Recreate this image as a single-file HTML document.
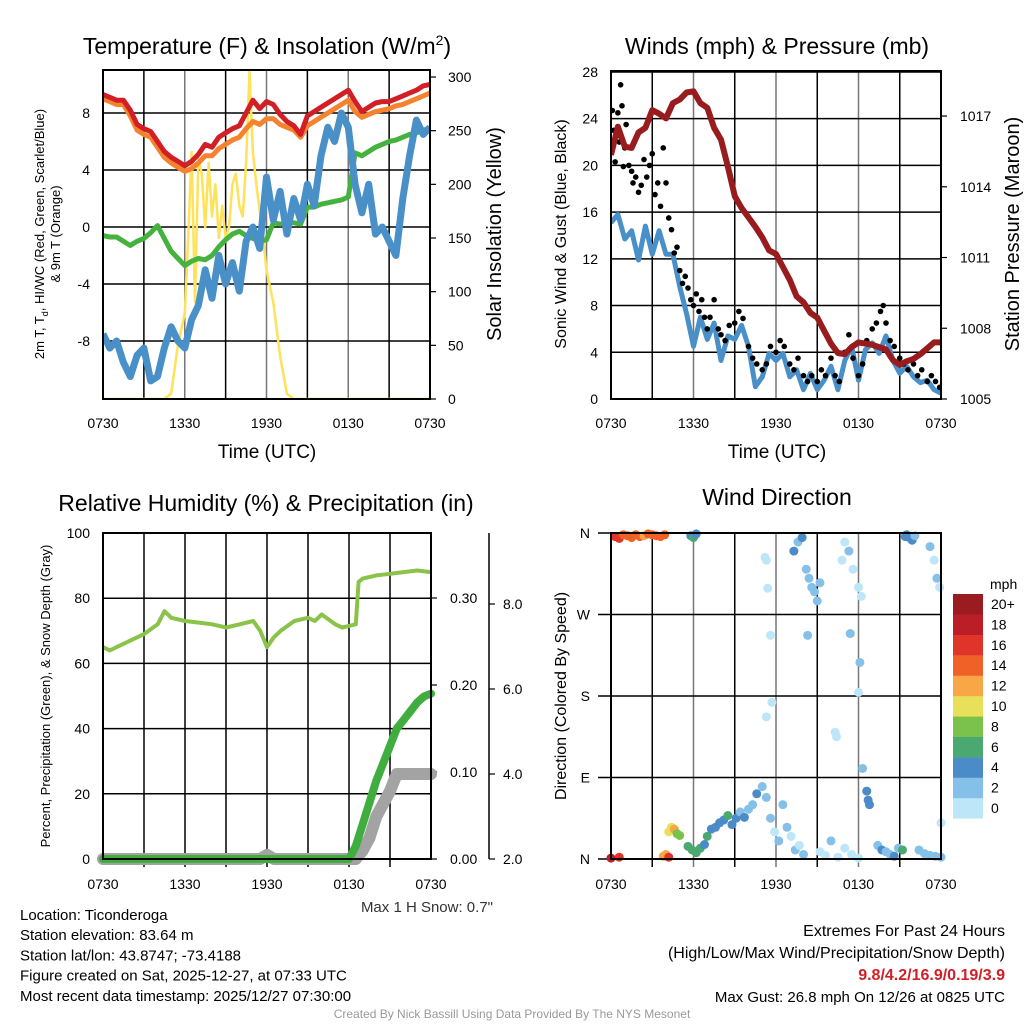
<!DOCTYPE html>
<html><head><meta charset="utf-8"><style>
html,body{margin:0;padding:0;background:#fff;}
svg{display:block;font-family:"Liberation Sans",Arial,sans-serif;}
</style></head><body>
<svg id="c" width="1024" height="1024" viewBox="0 0 1024 1024" xmlns="http://www.w3.org/2000/svg">
<defs>
<clipPath id="cp1"><rect x="103" y="70" width="327" height="329"/></clipPath>
<clipPath id="cp2"><rect x="611" y="71" width="330" height="328"/></clipPath>
</defs>
</svg>
<script>
// ---------- data ----------
const hours49 = [0,0.5,1,1.5,2,2.5,3,3.5,4,4.5,5,5.5,6,6.5,7,7.5,8,8.5,9,9.5,10,10.5,11,11.5,12,12.5,13,13.5,14,14.5,15,15.5,16,16.5,17,17.5,18,18.5,19,19.5,20,20.5,21,21.5,22,22.5,23,23.5,24];
const tempRed = [9.3,9.1,8.9,8.9,8.2,7.2,6.9,6.7,6.0,5.3,4.9,4.6,4.3,4.6,5.1,5.8,5.6,6.3,6.6,6.9,7.1,8.0,8.9,8.3,8.8,8.6,7.9,7.4,7.1,6.5,7.8,8.1,8.4,8.7,9.0,9.3,9.6,8.8,8.1,8.4,8.7,8.8,8.8,9.0,9.2,9.4,9.6,9.9,10.0];
const tempOrange = [9.0,8.8,8.6,8.6,7.8,6.8,6.5,6.3,5.6,4.9,4.5,4.2,3.9,4.1,4.5,5.0,5.0,5.5,5.8,6.1,6.3,6.9,7.4,7.2,7.6,7.6,7.2,7.0,6.8,6.3,7.1,7.4,7.7,8.0,8.3,8.6,8.9,8.1,7.7,7.9,8.1,8.2,8.3,8.5,8.6,8.8,9.0,9.2,9.4];
const windChillGreen = [-0.6,-0.7,-0.7,-1.0,-1.3,-1.0,-0.8,-0.4,0.1,-0.8,-1.7,-2.2,-2.7,-2.4,-2.2,-2.3,-2.0,-1.4,-0.9,-0.5,-0.3,-0.6,-0.8,-1.0,-0.9,0.3,0.2,0.3,0.3,0.2,1.4,1.4,1.6,1.7,1.8,1.9,2.1,5.2,5.0,5.3,5.6,5.8,6.0,6.1,6.3,6.5,6.6,6.8,6.9];
const dewBlue = [-7.5,-8.5,-8,-9.5,-10.5,-9,-8.5,-10.8,-10.5,-8.5,-7,-8,-8.5,-6.5,-5.5,-3,-5,-2,-4,-2.5,-4.5,-1,0,-1.5,3.5,0.5,2.5,-0.5,2,0.5,3,1.5,5,7,6,8,7,3,1,3,-0.5,0,-1,-2,2,5,7.5,6.5,7];
const solarHours = [0,4.5,5,5.5,6,6.25,6.5,6.75,7,7.25,7.5,7.75,8,8.25,8.5,8.75,9,9.25,9.5,9.75,10,10.25,10.5,10.75,11,11.25,11.5,11.75,12,12.5,13,13.5,14,24];
const solarWm2 = [0,0,5,50,80,150,230,90,225,210,160,220,170,200,150,180,150,160,200,210,180,170,220,305,230,200,175,150,120,90,40,5,0,0];
const pressureMb = [1015.35,1016.55,1015.7,1015.65,1016.3,1016.5,1017.25,1017.1,1016.9,1017.55,1017.7,1018.0,1018.05,1017.55,1017.35,1016.5,1016.0,1014.85,1013.6,1013.1,1012.7,1012.3,1011.85,1011.3,1011.15,1010.6,1010.05,1009.35,1009.1,1008.65,1008.45,1007.9,1007.35,1006.95,1006.9,1007.2,1007.4,1007.35,1007.3,1007.2,1007.1,1006.65,1006.45,1006.6,1006.7,1006.9,1007.15,1007.4,1007.4];
const windMph = [15.1,15.8,13.7,14.4,11.9,14.8,12.4,14.4,12.4,12.4,9.6,7.3,4.5,7.0,5.1,6.5,3.3,5.4,5.1,6.3,4.5,1.05,1.9,3.9,3.3,3.9,1.9,2.5,0.8,2.2,0.8,1.6,2.8,0.8,3.3,4.5,1.6,4.2,4.8,3.9,5.4,3.3,2.2,2.8,1.9,1.4,1.6,0.8,0.5];
const gustHours = [0.1,0.2,0.3,0.4,0.5,0.6,0.7,0.8,0.9,1.0,1.1,1.3,1.5,1.6,1.8,2.0,2.2,2.4,2.6,2.8,3.0,3.2,3.4,3.6,3.8,4.0,4.2,4.4,4.6,4.8,5.0,5.2,5.4,5.6,5.8,6.0,6.2,6.4,6.6,6.8,7.0,7.2,7.5,7.8,8.0,8.3,8.6,9.0,9.3,9.6,10.0,10.3,10.6,11.0,11.3,11.6,12.0,12.3,12.6,13.0,13.3,13.6,14.0,14.3,14.6,15.0,15.3,15.6,16.0,16.3,16.6,17.0,17.3,17.6,18.0,18.3,18.6,19.0,19.3,19.6,19.8,20.0,20.3,20.6,21.0,21.3,21.6,22.0,22.3,22.6,23.0,23.3,23.6,23.9];
const gustMph = [24.7,23,20.3,22.5,24.5,22,26.9,25.1,19.9,21.5,23.5,20,19.5,18.5,19,17.7,18.3,20.5,19,20,21,17.5,18.5,16.5,21.5,18.5,15.5,14.5,12.5,13,11,9.9,10.5,9.5,8.5,8,9,7.5,8.5,7,6,7,8.5,6,5.5,5,6.3,6.5,7.5,6.9,4.5,3.5,3,2.5,3,4.5,4,5,4.5,3,2.5,3.5,2,1.5,2,1.5,2.5,2,3.5,2,1.5,4,5.5,3.5,2,3,5,6,6.5,7.5,8,6.5,5,4.5,3.5,3,2.5,3,2,2.5,1.5,2,1.5,1];
const rhHours = [0,0.5,1,2,3,4,4.5,5,6,7,8,9,10,11,11.5,12,12.5,13,14,15,15.5,16,17,17.5,18,18.5,18.7,19,20,21,22,23,24];
const rhPct = [65,64,65,67,69,72,76,74,73,72.5,72,71,72,73,70,65,68,70,73,74,73,75,72,71,71.5,72,85,86,87,87.5,88,88.5,88];
const precipHours = [0,18,18.5,19,19.5,20,20.5,21,21.5,22,22.5,23,23.5,24];
const precipIn = [0,0,0.015,0.04,0.065,0.09,0.11,0.13,0.15,0.16,0.17,0.18,0.187,0.19];
const snowHours = [0,11.5,12,12.5,18.5,19,19.5,20,20.5,21,21.5,24];
const snowIn = [2.0,2.0,2.1,2.0,2.0,2.2,2.5,3.0,3.3,3.6,4.0,4.0];
const dirHours = [0.3,0.6,0.9,1.2,1.5,1.8,2.1,2.4,2.7,3.0,3.3,3.6,3.9,0.0,0.6,3.8,4.0,4.2,5.8,6.0,6.2,4.2,4.4,4.6,4.8,5.0,5.6,5.9,6.2,6.5,6.8,7.0,7.3,7.6,7.9,8.2,8.5,8.8,9.1,9.4,9.7,10.0,10.3,10.6,11.0,11.3,11.6,11.9,12.2,12.5,12.8,13.1,13.4,13.7,14.0,11.2,11.3,11.4,11.6,11.7,11.3,13.3,13.6,13.9,14.2,14.4,14.6,14.8,15.0,15.2,14.3,16.3,16.4,16.8,17.0,17.3,17.6,18.0,18.2,17.4,18.1,18.0,18.3,18.6,18.7,18.8,19.4,19.7,20.0,20.3,20.6,20.9,21.2,21.4,21.5,21.7,21.9,22.1,23.2,23.5,23.7,23.9,22.4,22.8,23.2,23.6,24.0,24.0,15.2,15.6,16.0,16.5,17.0,17.5,18.0];
const dirDeg = [356,354,358,357,355,358,356,357,359,358,357,356,358,1,2,3,5,2,357,355,359,30,35,33,28,26,14,10,7,12,16,25,33,35,40,43,48,38,45,52,46,55,60,72,80,68,45,30,20,60,35,25,10,15,5,333,330,299,247,173,157,340,350,355,320,310,300,295,285,305,247,140,135,330,350,340,320,300,290,249,217,184,100,75,65,60,15,10,8,5,3,12,10,356,358,355,352,357,345,330,310,300,10,6,4,3,2,40,8,4,20,2,12,5,1];
const dirSpeed = [16,17,15,14,14,15,14,13,14,14,15,14,14,18,17,13,12,16,4,6,5,11,10,12,9,8,6,6,7,6,5,6,5,4,5,4,6,5,4,3,4,3,2,4,3,3,2,1,2,3,2,1,2,1,3,0,1,1,1,0,0,4,3,4,3,2,2,2,3,2,2,0,1,1,0,2,0,1,0,2,2,1,2,4,4,5,3,4,3,3,4,2,6,5,4,5,4,3,2,1,2,1,2,2,3,2,2,0,1,1,2,1,0,1,1];
const speedColors = ['#bde6f8','#84c0e8','#4b8cc8','#4aa870','#7bc24d','#e8e05a','#f9a646','#f06128','#e0342a','#bb1e26','#9b1c20'];
const speedLabels = ['0','2','4','6','8','10','12','14','16','18','20+'];
const timeLabels = ['0730','1330','1930','0130','0730'];
const tempTicks = [-8,-4,0,4,8];
const solarTicks = [0,50,100,150,200,250,300];
const windTicks = [0,4,8,12,16,20,24,28];
const pressTicks = [1005,1008,1011,1014,1017];
const rhTicks = [0,20,40,60,80,100];
const precipTicks = [0,0.1,0.2,0.3];
const snowTicks = [2,4,6,8];
const dirTicks = ['N','E','S','W','N'];
const dirTickDeg = [0,90,180,270,360];

// ---------- helpers ----------
const NS='http://www.w3.org/2000/svg';
const svg=document.getElementById('c');
function mk(tag,attrs,parent){const e=document.createElementNS(NS,tag);for(const k in attrs)e.setAttribute(k,attrs[k]);(parent||svg).appendChild(e);return e;}
function txt(s,x,y,size,anchor,parent,extra){const t=mk('text',Object.assign({x:x,y:y,'font-size':size,'text-anchor':anchor||'middle',fill:'#000'},extra||{}),parent);t.textContent=s;return t;}
function pts(xs,ys,fx,fy){return xs.map((h,i)=>fx(h).toFixed(1)+','+fy(ys[i]).toFixed(1)).join(' ');}

// ---------- panel 1: temperature ----------
const p1={x0:103,x1:430,y0:70,y1:399};
const x1f=h=>p1.x0+h/24*(p1.x1-p1.x0);
const yT=v=>227-v*14.25;
const yS=v=>399-v*1.0733;
const g1=mk('g',{});


for(let h=3;h<24;h+=3){const l=mk('line',{x1:x1f(h),x2:x1f(h),y1:p1.y0,y2:p1.y1,stroke:h%6?'#000':'#777','stroke-width':1.5},g1);

}
tempTicks.forEach(v=>{const l=mk('line',{x1:p1.x0,x2:p1.x1,y1:yT(v),y2:yT(v),stroke:'#000','stroke-width':1.5},g1);


const t=txt(String(v),90,yT(v)+5,14,'end',g1);

});
solarTicks.forEach(v=>{mk('line',{x1:p1.x1,x2:p1.x1+6,y1:yS(v),y2:yS(v),stroke:'#000','stroke-width':1.2},g1);
const t=txt(String(v),448,yS(v)+5,14,'start',g1);

});
const c1=mk('g',{'clip-path':'url(#cp1)'},g1);
const sY=mk('polyline',{points:pts(solarHours,solarWm2,x1f,yS),fill:'none',stroke:'#fde25a','stroke-width':2.5,'stroke-linejoin':'round'},c1);


const gL=mk('polyline',{points:pts(hours49,windChillGreen,x1f,yT),fill:'none',stroke:'#46b23e','stroke-width':5,'stroke-linejoin':'round'},c1);


const bL=mk('polyline',{points:pts(hours49,dewBlue,x1f,yT),fill:'none',stroke:'#4a90c8','stroke-width':7,'stroke-linejoin':'round'},c1);


const oL=mk('polyline',{points:pts(hours49,tempOrange,x1f,yT),fill:'none',stroke:'#f4822e','stroke-width':5,'stroke-linejoin':'round'},c1);


const rL=mk('polyline',{points:pts(hours49,tempRed,x1f,yT),fill:'none',stroke:'#d21f26','stroke-width':5,'stroke-linejoin':'round'},c1);


mk('rect',{x:p1.x0,y:p1.y0,width:p1.x1-p1.x0,height:p1.y1-p1.y0,fill:'none',stroke:'#000','stroke-width':2},g1);
timeLabels.forEach((s,i)=>{const t=txt(s,x1f(i*6),428,14,'middle',g1);

});
const t1=mk('text',{x:267,y:54,'font-size':23,'text-anchor':'middle'},g1);
t1.innerHTML='Temperature (F) &amp; Insolation (W/m<tspan font-size="14" dy="-9">2</tspan><tspan dy="9">)</tspan>';


let a=txt('Time (UTC)',267,458,19,'middle',g1);


a=mk('text',{transform:'translate(44,234) rotate(-90)','font-size':13,'text-anchor':'middle'},g1);
a.innerHTML='<tspan x="0" dy="0">2m T, T<tspan font-size="9" dy="4">d</tspan><tspan dy="-4">, HI/WC (Red, Green, Scarlet/Blue)</tspan></tspan><tspan x="0" dy="16">&amp; 9m T (Orange)</tspan>';


a=txt('Solar Insolation (Yellow)',0,0,20,'middle',g1,{transform:'translate(501,234) rotate(-90)'});



// ---------- panel 2: winds ----------
const p2={x0:611,x1:941,y0:71,y1:399};
const x2f=h=>p2.x0+h/24*(p2.x1-p2.x0);
const yW=v=>399-v*11.68;
const yP=p=>399-(p-1005)*23.58;
const g2=mk('g',{});


for(let h=3;h<24;h+=3){const l=mk('line',{x1:x2f(h),x2:x2f(h),y1:p2.y0,y2:p2.y1,stroke:h%6?'#000':'#777','stroke-width':1.5},g2);

}
windTicks.forEach(v=>{const l=mk('line',{x1:p2.x0,x2:p2.x1,y1:yW(v),y2:yW(v),stroke:'#000','stroke-width':1.5},g2);


const t=txt(String(v),598,yW(v)+5,14,'end',g2);

});
pressTicks.forEach(v=>{mk('line',{x1:p2.x1,x2:p2.x1+6,y1:yP(v),y2:yP(v),stroke:'#000','stroke-width':1.2},g2);
const t=txt(String(v),960,yP(v)+5,14,'start',g2);

});
const c2=mk('g',{'clip-path':'url(#cp2)'},g2);
const wL=mk('polyline',{points:pts(hours49,windMph,x2f,yW),fill:'none',stroke:'#4a90c8','stroke-width':5,'stroke-linejoin':'round'},c2);


gustHours.forEach((h,i)=>{const c=mk('circle',{cx:x2f(h),cy:yW(gustMph[i]),r:2.8,fill:'#000'},c2);

});
const pL=mk('polyline',{points:pts(hours49,pressureMb,x2f,yP),fill:'none',stroke:'#981b1e','stroke-width':6,'stroke-linejoin':'round'},c2);


mk('rect',{x:p2.x0,y:p2.y0,width:p2.x1-p2.x0,height:p2.y1-p2.y0,fill:'none',stroke:'#000','stroke-width':2},g2);
timeLabels.forEach((s,i)=>{const t=txt(s,x2f(i*6),428,14,'middle',g2);

});
a=txt('Winds (mph) & Pressure (mb)',777,54,23,'middle',g2);


a=txt('Time (UTC)',777,458,19,'middle',g2);


a=txt('Sonic Wind & Gust (Blue, Black)',0,0,16,'middle',g2,{transform:'translate(566,234) rotate(-90)'});


a=txt('Station Pressure (Maroon)',0,0,20,'middle',g2,{transform:'translate(1019,234) rotate(-90)'});



// ---------- panel 3: RH & precip ----------
const p3={x0:103,x1:431,y0:533,y1:859};
const x3f=h=>p3.x0+h/24*(p3.x1-p3.x0);
const yRH=v=>859-v*3.26;
const yPr=v=>859-v*870;
const ySn=v=>859-(v-2)*42.5;
const g3=mk('g',{});


for(let h=3;h<24;h+=3){const l=mk('line',{x1:x3f(h),x2:x3f(h),y1:p3.y0,y2:p3.y1+8,stroke:'#000','stroke-width':1.5},g3);

}
rhTicks.forEach(v=>{const l=mk('line',{x1:p3.x0,x2:p3.x1,y1:yRH(v),y2:yRH(v),stroke:'#000','stroke-width':1.5},g3);


const t=txt(String(v),90,yRH(v)+5,14,'end',g3);

});
precipTicks.forEach(v=>{mk('line',{x1:p3.x1,x2:p3.x1+6,y1:yPr(v),y2:yPr(v),stroke:'#000','stroke-width':1.2},g3);
const t=txt(v.toFixed(2),450,yPr(v)+5,14,'start',g3);

});
mk('line',{x1:489,x2:489,y1:533,y2:859,stroke:'#000','stroke-width':1.5},g3);
snowTicks.forEach(v=>{mk('line',{x1:489,x2:495,y1:ySn(v),y2:ySn(v),stroke:'#000','stroke-width':1.2},g3);
const t=txt(v.toFixed(1),503,ySn(v)+5,14,'start',g3);

});
const snL=mk('polyline',{points:pts(snowHours,snowIn,x3f,ySn),fill:'none',stroke:'#a3a3a3','stroke-width':12,'stroke-linejoin':'round','stroke-linecap':'round'},g3);


const prL=mk('polyline',{points:pts(precipHours,precipIn,x3f,yPr),fill:'none',stroke:'#3fae3e','stroke-width':8,'stroke-linejoin':'round','stroke-linecap':'round'},g3);


const rhL=mk('polyline',{points:pts(rhHours,rhPct,x3f,yRH),fill:'none',stroke:'#8bc34a','stroke-width':4,'stroke-linejoin':'round'},g3);


mk('rect',{x:p3.x0,y:p3.y0,width:p3.x1-p3.x0,height:p3.y1-p3.y0,fill:'none',stroke:'#000','stroke-width':2},g3);
timeLabels.forEach((s,i)=>{const t=txt(s,x3f(i*6),889,14,'middle',g3);

});
a=txt('Relative Humidity (%) & Precipitation (in)',266,511,23,'middle',g3);


a=txt('Percent, Precipitation (Green), & Snow Depth (Gray)',0,0,13,'middle',g3,{transform:'translate(50,696) rotate(-90)'});


a=txt('Max 1 H Snow: 0.7"',493,912,15,'end',g3,{fill:'#333'});



// ---------- panel 4: wind direction ----------
const p4={x0:611,x1:941,y0:533,y1:859};
const x4f=h=>p4.x0+h/24*(p4.x1-p4.x0);
const yD=d=>859-d*326/360;
const g4=mk('g',{});


for(let h=3;h<24;h+=3){const l=mk('line',{x1:x4f(h),x2:x4f(h),y1:p4.y0,y2:p4.y1+8,stroke:h%6?'#000':'#777','stroke-width':1.5},g4);

}
dirTicks.forEach((s,i)=>{const yy=yD(dirTickDeg[i]);
const l=mk('line',{x1:598,x2:p4.x1,y1:yy,y2:yy,stroke:'#000','stroke-width':1.5},g4);


const t=txt(s,590,yy+5,14,'end',g4);

});
dirHours.forEach((h,i)=>{const b=Math.min(10,Math.floor(dirSpeed[i]/2));
const c=mk('circle',{cx:x4f(h),cy:yD(dirDeg[i]),r:4.5,fill:speedColors[b]},g4);

});
mk('rect',{x:p4.x0,y:p4.y0,width:p4.x1-p4.x0,height:p4.y1-p4.y0,fill:'none',stroke:'#000','stroke-width':2},g4);
timeLabels.forEach((s,i)=>{const t=txt(s,x4f(i*6),889,14,'middle',g4);

});
a=txt('Wind Direction',777,505,23,'middle',g4);


a=txt('Direction (Colored By Speed)',0,0,16,'middle',g4,{transform:'translate(566,696) rotate(-90)'});


const cb=mk('g',{},g4);


speedColors.forEach((col,i)=>{const y=594+(10-i)*20.4;
const r=mk('rect',{x:953,y:y,width:30,height:20.6,fill:col},cb);


const t=txt(speedLabels[i],991,y+15,14,'start',cb);

});
a=txt('mph',990,589,14,'start',cb);



// ---------- footer text ----------
const info=['Location: Ticonderoga','Station elevation: 83.64 m','Station lat/lon: 43.8747; -73.4188','Figure created on Sat, 2025-12-27, at 07:33 UTC','Most recent data timestamp: 2025/12/27 07:30:00'];
info.forEach((s,i)=>{const t=txt(s,20,920+i*20.2,15,'start');

});
a=txt('Extremes For Past 24 Hours',1005,936,16,'end');


a=txt('(High/Low/Max Wind/Precipitation/Snow Depth)',1005,958,16,'end');


a=txt('9.8/4.2/16.9/0.19/3.9',1005,980,16,'end',null,{fill:'#d21f26','font-weight':'bold'});


a=txt('Max Gust: 26.8 mph On 12/26 at 0825 UTC',1005,1002,15,'end');


a=txt('Created By Nick Bassill Using Data Provided By The NYS Mesonet',512,1018,12,'middle',null,{fill:'#999'});


</script>
</body></html>
